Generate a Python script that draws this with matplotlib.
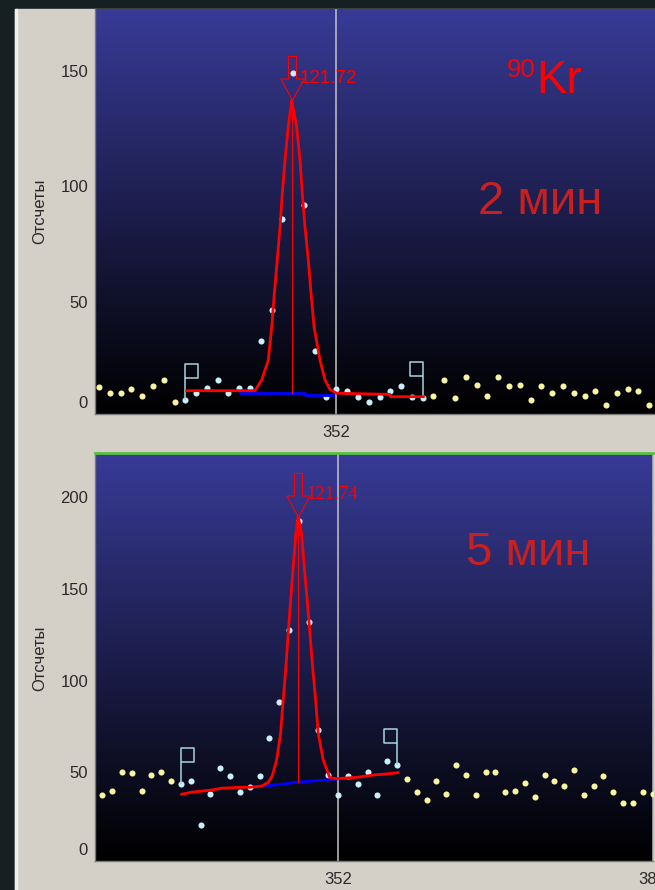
"""
   Two gamma spectra around the 121.7 keV line of Kr-90 (2 min and 5 min).
"""
import numpy as np
import matplotlib
matplotlib.use("Agg")
import matplotlib.pyplot as plt
from matplotlib.colors import LinearSegmentedColormap
from matplotlib.path import Path
from matplotlib.patches import Rectangle

plt.rcParams['font.family'] = ['Liberation Sans', 'DejaVu Sans']

# ---------------- 2 min spectrum ----------------
channels_2 = list(range(330, 382))
counts_2 = [13.2, 10.6, 10.6, 12.1, 9.3, 13.5, 16.1, 6.5,
            7.5, 10.4, 12.5, 16.1, 10.4, 12.5, 12.5, 33.1, 46.3, 85.9, 149.0, 92.1,
            28.5, 8.9, 12.1, 11.5, 8.9, 6.5, 8.9, 11.5, 13.5, 8.9, 8.4,
            9.3, 16.1, 8.4, 17.5, 14.1, 9.3, 17.5, 13.5, 14.1, 7.5, 13.5, 10.6,
            13.5, 10.6, 9.3, 11.5, 5.3, 10.6, 12.1, 11.5, 5.3]
roi_2 = (338, 360)
fit_x_2 = [338.13, 344.46, 345.08, 345.69, 346.01, 346.25, 346.52, 346.78, 346.99,
           347.24, 347.54, 347.86, 348.32, 348.63, 348.84, 349.09, 349.40, 349.65,
           349.93, 350.48, 350.95, 351.41, 352.03, 356.97, 357.0, 360.06]
fit_y_2 = [11.5, 11.5, 16.1, 24.8, 39.2, 53.7, 68.1, 82.5, 97.0,
           111.4, 125.9, 137.4, 125.9, 111.4, 97.0, 82.5, 68.1, 53.7,
           39.2, 24.8, 16.1, 12.0, 10.4, 9.9, 8.9, 8.9]
base_x_2 = [343.07, 349.09, 349.09, 351.71]
base_y_2 = [10.6, 10.6, 9.7, 9.7]
centroid_2 = 347.86
peak_2 = 137.4
label_2 = "121.72"

# ---------------- 5 min spectrum ----------------
channels_5 = list(range(328, 385))
counts_5 = [37.5, 40.0, 50.4, 49.6, 40.0, 48.7, 50.4, 45.3,
            43.5, 45.3, 21.1, 38.3, 52.2, 47.8, 39.3, 41.8, 47.8, 68.5, 88.3, 127.8,
            187.2, 132.1, 73.1, 48.7, 37.5, 47.8, 43.5, 50.4, 37.5, 56.3, 53.8,
            46.2, 39.3, 34.9, 45.3, 38.3, 53.8, 48.7, 37.5, 50.4, 50.4, 39.3, 40.0,
            44.4, 36.5, 48.7, 45.3, 42.7, 51.3, 37.5, 42.7, 47.8, 39.3, 33.1, 33.1,
            39.3, 38.3]
roi_5 = (336, 358)
fit_x_5 = [336.08, 337.09, 339.13, 340.15, 342.01, 343.03, 344.22, 344.89, 345.3,
           345.74, 346.15, 346.41, 346.69, 346.92, 347.17, 347.43, 347.70, 347.94,
           348.28, 348.55, 348.85, 349.13, 349.40, 349.71, 349.97, 350.48, 351.16,
           351.85, 354.04, 355.57, 356.93, 358.11]
fit_y_5 = [38.0, 39.1, 40.3, 41.3, 41.8, 41.8, 42.5, 44.5, 48.0,
           56.7, 71.3, 89.4, 107.6, 125.8, 143.9, 162.1, 180.3, 189.4,
           180.3, 162.1, 143.9, 125.8, 107.6, 89.4, 71.3, 56.7, 47.0,
           46.5, 47.3, 48.5, 49.1, 49.8]
base_x_5 = [344.72, 347.78, 349.81, 351.85]
base_y_5 = [42.5, 44.5, 45.4, 46.3]
centroid_5 = 347.94
peak_5 = 189.4
label_5 = "121.74"

# ---------------- colours ----------------
PANEL = '#d4d0c8'
BG_TOP = (0.22, 0.23, 0.59)
YELLOW = '#f8f4a0'
CYAN = '#c8f0fa'
FLAG = '#a8d4dc'
TICKC = '#2a2a2a'
W, H = 655, 890


def flag_marker(side):
    """Flag on a pole, in pixel units, square to the given side."""
    s = 13.5 * side
    return Path([(0, 0), (0, 36), (s, 36), (s, 22.5), (0, 22.5)])


ARROW = Path([(0, 0), (-11.5, 21.5), (-4, 21.5), (-4, 44), (4, 44),
              (4, 21.5), (11.5, 21.5), (0, 0)])


def draw_panel(ax, ch, counts, roi, fx, fy, bx, by, cen, top, label, lfont,
               xlim, ylim, yticks, xticks):
    ch = np.array(ch)
    counts = np.array(counts)
    cmap = LinearSegmentedColormap.from_list('bg', ['black', BG_TOP])
    grad = np.linspace(1, 0, 256).reshape(-1, 1)
    ax.imshow(grad, cmap=cmap, extent=[0, 1, 0, 1], transform=ax.transAxes,
              aspect='auto', zorder=0)

    ax.axvline(352, color='#c4c4c4', lw=1.1, zorder=1)

    inside = (ch >= roi[0]) & (ch <= roi[1])
    ax.plot(ch[~inside], counts[~inside], 'o', ms=4.4, mew=0, color=YELLOW, zorder=3)
    ax.plot(ch[inside], counts[inside], 'o', ms=4.4, mew=0, color=CYAN, zorder=3)

    # region flags
    i0 = list(ch).index(roi[0])
    i1 = list(ch).index(roi[1])
    ax.plot(ch[i0], counts[i0], marker=flag_marker(1), ms=51.8, mfc='none',
            mec=FLAG, mew=1.1, zorder=4)
    ax.plot(ch[i1], counts[i1], marker=flag_marker(-1), ms=51.8, mfc='none',
            mec=FLAG, mew=1.1, zorder=4)

    # fit, baseline, centroid
    ax.plot(bx, by, color='#0000ff', lw=2.0, zorder=4)
    ax.plot(fx, fy, color='#ff0000', lw=2.0, zorder=5)
    ax.plot([cen, cen], [by[1], top], color='#ff0000', lw=0.8, zorder=5)
    ax.plot(cen, top, marker=ARROW, ms=63.4, mfc='none', mec='#ff0000',
            mew=0.8, zorder=6)
    ax.annotate(label, xy=(cen, top), xytext=(6.0, 15.8), textcoords='offset points',
                ha='left', va='center', color='#ff0000', fontsize=13.5,
                family=lfont, zorder=6)

    ax.set_xlim(*xlim)
    ax.set_ylim(*ylim)
    ax.set_xticks(xticks)
    ax.set_xticklabels([str(t) for t in xticks])
    ax.set_yticks(yticks)
    ax.set_yticklabels([str(t) for t in yticks])
    ax.tick_params(length=0, labelsize=12, labelcolor=TICKC)
    ax.tick_params(axis='y', pad=5)
    ax.tick_params(axis='x', pad=8)
    # zero label is pinned just inside the bottom edge
    ax.annotate('0', xy=(0, 0), xycoords='axes fraction', xytext=(-5, 7.3),
                textcoords='offset points', ha='right', va='center',
                fontsize=12, color=TICKC, annotation_clip=False)
    for s in ax.spines.values():
        s.set_visible(False)
    for s in ('left', 'bottom'):
        ax.spines[s].set_visible(True)
        ax.spines[s].set_color('#7a7a7a')
        ax.spines[s].set_linewidth(1.0)


fig = plt.figure(figsize=(W / 100, H / 100), dpi=100)
fig.patch.set_facecolor('#162022')
fig.patches.append(Rectangle((15 / W, 0), 1, 1 - 9 / H, transform=fig.transFigure,
                             color=PANEL, zorder=-10))
fig.patches.append(Rectangle((15 / W, 0), 2 / W, 1 - 9 / H, transform=fig.transFigure,
                             color='#f2f0ec', zorder=-9))

ax1 = fig.add_axes([95 / W, 1 - 414 / H, 560 / W, 405 / H])
draw_panel(ax1, channels_2, counts_2, roi_2, fit_x_2, fit_y_2, base_x_2, base_y_2,
           centroid_2, peak_2, label_2, 'Liberation Sans',
           (329.63, 381.53), (1.4, 176.9), [50, 100, 150], [352])

ax2 = fig.add_axes([95 / W, 1 - 861 / H, 558 / W, 408 / H])
draw_panel(ax2, channels_5, counts_5, roi_5, fit_x_5, fit_y_5, base_x_5, base_y_5,
           centroid_5, peak_5, label_5, 'Liberation Serif',
           (327.26, 384.04), (1.6, 224.1), [50, 100, 150, 200], [352, 384])
ax2.spines['top'].set_visible(True)
ax2.spines['top'].set_color('#58c040')
ax2.spines['top'].set_linewidth(2.0)
ax2.spines['right'].set_visible(True)
ax2.spines['right'].set_color('#b8b8b8')
ax2.spines['right'].set_linewidth(1.1)

# axis titles and captions
for yc in (211, 658):
    fig.text(40 / W, 1 - yc / H, 'Отсчеты', rotation=90, ha='center', va='center',
             fontsize=12, color=TICKC)

fig.text(507 / W, 1 - 76.7 / H, '90', ha='left', va='baseline', fontsize=18.5,
         color='#ff0000')
fig.text(536 / W, 1 - 93.3 / H, 'Kr', ha='left', va='baseline', fontsize=33,
         color='#ff0000')
fig.text(540.5 / W, 1 - 214 / H, '2 мин', ha='center', va='baseline', fontsize=34,
         color='#c82020')
fig.text(528.3 / W, 1 - 565 / H, '5 мин', ha='center', va='baseline', fontsize=34,
         color='#c82020')

fig.savefig('out.png', dpi=100, facecolor=fig.get_facecolor())
